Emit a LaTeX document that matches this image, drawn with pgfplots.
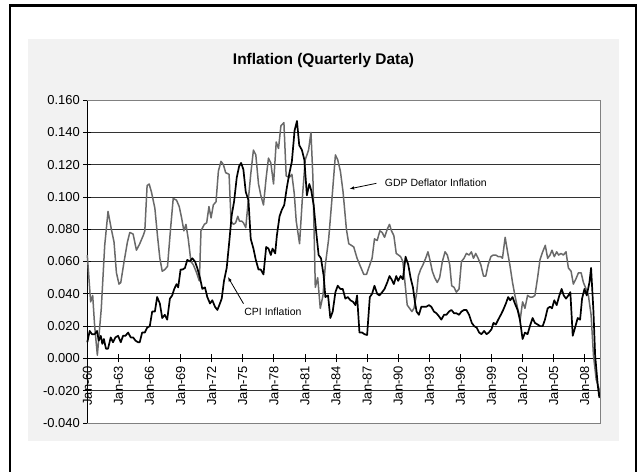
\documentclass[border=0pt]{standalone}
\usepackage{fontspec}
\setmainfont{Liberation Sans}
\usepackage{pgfplots}
\pgfplotsset{compat=1.18}
\usetikzlibrary{arrows.meta}
\definecolor{chartgray}{RGB}{242,242,242}
\definecolor{gdpgray}{RGB}{105,105,105}
\definecolor{framegray}{RGB}{128,128,128}

\begin{document}
\begin{tikzpicture}
% chart area and outer frame
\fill[chartgray] (28.3bp,-39bp) rectangle (619bp,-441bp);
\draw[line width=2.3bp] (9.9bp,-480bp) -- (9.9bp,-5.6bp) -- (636bp,-5.6bp) -- (636bp,-480bp);
\node[font=\bfseries\fontsize{15.5}{18}\selectfont] at (323.5bp,-60.7bp) {Inflation (Quarterly Data)};
\begin{axis}[
  at={(87.3bp,-423bp)}, anchor=south west,
  scale only axis, width=513bp, height=323bp,
  xmin=1960, xmax=2009.5, ymin=-0.04, ymax=0.16,
  axis background/.style={fill=white},
  axis x line*=middle, axis y line*=left,
  hide obscured x ticks=false, hide obscured y ticks=false,
  axis line style={black, line width=0.8bp},
  tick align=center, major tick length=8bp,
  tick style={black, line width=0.8bp},
  ymajorgrids, grid style={black!80, line width=0.75bp},
  ytick={-0.04,-0.02,0,0.02,0.04,0.06,0.08,0.1,0.12,0.14,0.16},
  scaled y ticks=false,
  yticklabel style={/pgf/number format/fixed, /pgf/number format/fixed zerofill, /pgf/number format/precision=3,
    /pgf/number format/assume math mode=true, font=\fontsize{13}{13}\selectfont},
  xtick={1960,1963,...,2008},
  xticklabels={Jan-60,Jan-63,Jan-66,Jan-69,Jan-72,Jan-75,Jan-78,Jan-81,Jan-84,Jan-87,Jan-90,Jan-93,Jan-96,Jan-99,Jan-02,Jan-05,Jan-08},
  xticklabel style={rotate=90, anchor=east, font=\fontsize{13}{13}\selectfont},
  clip=false,
]
% GDP deflator inflation
\addplot[gdpgray, line width=1.5bp, line join=round] coordinates {
(1960.00,0.064) (1960.32,0.035) (1960.52,0.039) (1960.71,0.020) (1960.97,0.002)
(1961.35,0.031) (1961.68,0.070) (1962.00,0.091) (1962.32,0.080) (1962.58,0.072)
(1962.81,0.053) (1963.06,0.046) (1963.23,0.047) (1963.55,0.060) (1963.87,0.072)
(1964.10,0.078) (1964.42,0.077) (1964.74,0.067) (1965.06,0.071) (1965.39,0.076)
(1965.55,0.079) (1965.77,0.107) (1965.97,0.108) (1966.19,0.103) (1966.52,0.093)
(1966.77,0.076) (1967.00,0.062) (1967.23,0.054) (1967.48,0.055) (1967.74,0.057)
(1968.03,0.080) (1968.29,0.099) (1968.61,0.098) (1968.87,0.094) (1969.10,0.087)
(1969.32,0.079) (1969.52,0.083) (1969.74,0.074) (1970.00,0.060) (1970.23,0.058)
(1970.55,0.053) (1970.81,0.048) (1970.97,0.079) (1971.29,0.083) (1971.52,0.084)
(1971.74,0.094) (1971.94,0.087) (1972.16,0.095) (1972.42,0.097) (1972.65,0.116)
(1972.90,0.122) (1973.13,0.120) (1973.35,0.115) (1973.68,0.114) (1973.87,0.085)
(1974.10,0.083) (1974.32,0.084) (1974.52,0.088) (1974.68,0.085) (1974.90,0.085)
(1975.06,0.084) (1975.29,0.081) (1975.55,0.099) (1975.77,0.114) (1976.03,0.129)
(1976.26,0.126) (1976.52,0.108) (1976.74,0.101) (1977.00,0.095) (1977.26,0.112)
(1977.48,0.124) (1977.71,0.121) (1977.97,0.108) (1978.23,0.134) (1978.45,0.130)
(1978.68,0.144) (1978.97,0.146) (1979.19,0.113) (1979.48,0.112) (1979.74,0.114)
(1979.97,0.102) (1980.16,0.085) (1980.48,0.071) (1980.77,0.101) (1981.03,0.123)
(1981.35,0.129) (1981.58,0.140) (1981.77,0.112) (1982.00,0.044) (1982.23,0.050)
(1982.48,0.031) (1982.74,0.039) (1982.97,0.058) (1983.29,0.074) (1983.61,0.099)
(1983.94,0.126) (1984.16,0.123) (1984.42,0.116) (1984.68,0.103) (1985.00,0.080)
(1985.23,0.071) (1985.48,0.070) (1985.71,0.069) (1986.03,0.062) (1986.35,0.057)
(1986.68,0.052) (1986.94,0.052) (1987.26,0.058) (1987.48,0.062) (1987.71,0.074)
(1987.97,0.073) (1988.23,0.079) (1988.45,0.078) (1988.68,0.075) (1988.94,0.080)
(1989.16,0.083) (1989.35,0.079) (1989.58,0.076) (1989.81,0.065) (1990.03,0.064)
(1990.23,0.063) (1990.45,0.060) (1990.65,0.047) (1990.87,0.033) (1991.10,0.031)
(1991.32,0.029) (1991.52,0.031) (1991.77,0.040) (1991.94,0.051) (1992.16,0.055)
(1992.39,0.058) (1992.65,0.062) (1992.87,0.066) (1993.06,0.061) (1993.29,0.054)
(1993.52,0.050) (1993.77,0.047) (1994.00,0.050) (1994.26,0.060) (1994.52,0.066)
(1994.74,0.064) (1994.97,0.058) (1995.16,0.045) (1995.39,0.044) (1995.61,0.041)
(1995.87,0.043) (1996.10,0.060) (1996.35,0.062) (1996.58,0.065) (1996.84,0.064)
(1997.06,0.066) (1997.26,0.062) (1997.48,0.065) (1997.71,0.062) (1997.97,0.058)
(1998.23,0.051) (1998.45,0.051) (1998.68,0.058) (1998.94,0.063) (1999.16,0.064)
(1999.42,0.064) (1999.65,0.063) (1999.90,0.063) (2000.06,0.062) (2000.32,0.075)
(2000.55,0.066) (2000.77,0.058) (2001.03,0.047) (2001.26,0.039) (2001.52,0.031)
(2001.77,0.024) (2002.00,0.035) (2002.23,0.031) (2002.48,0.039) (2002.71,0.038)
(2002.97,0.038) (2003.19,0.039) (2003.45,0.050) (2003.68,0.061) (2003.94,0.066)
(2004.19,0.070) (2004.42,0.062) (2004.65,0.064) (2004.84,0.067) (2005.06,0.063)
(2005.29,0.066) (2005.48,0.064) (2005.71,0.065) (2005.94,0.064) (2006.19,0.066)
(2006.42,0.056) (2006.68,0.054) (2006.90,0.046) (2007.13,0.049) (2007.39,0.053)
(2007.65,0.053) (2007.87,0.047) (2008.13,0.043) (2008.35,0.039) (2008.61,0.027)
(2008.84,0.002) (2009.10,-0.013) (2009.48,-0.021)
};
% CPI inflation
\addplot[black, line width=1.7bp, line join=round] coordinates {
(1960.00,0.010) (1960.23,0.017) (1960.45,0.015) (1960.71,0.015) (1960.94,0.017)
(1961.10,0.011) (1961.30,0.014) (1961.45,0.009) (1961.60,0.012) (1961.80,0.006)
(1962.00,0.006) (1962.26,0.013) (1962.48,0.010) (1962.71,0.013) (1962.97,0.014)
(1963.23,0.010) (1963.45,0.014) (1963.68,0.014) (1963.94,0.016) (1964.19,0.013)
(1964.42,0.013) (1964.65,0.011) (1964.90,0.010) (1965.06,0.010) (1965.29,0.016)
(1965.55,0.016) (1965.77,0.019) (1966.03,0.020) (1966.26,0.029) (1966.52,0.029)
(1966.74,0.038) (1967.00,0.034) (1967.23,0.025) (1967.48,0.027) (1967.71,0.024)
(1967.97,0.037) (1968.19,0.039) (1968.39,0.043) (1968.61,0.046) (1968.77,0.044)
(1969.00,0.055) (1969.19,0.055) (1969.42,0.056) (1969.65,0.061) (1969.90,0.060)
(1970.13,0.062) (1970.39,0.060) (1970.61,0.056) (1970.87,0.050) (1971.10,0.043)
(1971.35,0.044) (1971.58,0.038) (1971.84,0.034) (1972.06,0.036) (1972.32,0.032)
(1972.55,0.030) (1972.74,0.033) (1972.97,0.037) (1973.19,0.048) (1973.45,0.056)
(1973.68,0.071) (1973.94,0.089) (1974.16,0.097) (1974.42,0.112) (1974.65,0.119)
(1974.84,0.121) (1975.06,0.117) (1975.29,0.103) (1975.55,0.098) (1975.77,0.074)
(1976.03,0.068) (1976.26,0.061) (1976.52,0.055) (1976.74,0.055) (1977.00,0.052)
(1977.26,0.069) (1977.48,0.068) (1977.71,0.064) (1977.87,0.068) (1978.13,0.065)
(1978.29,0.076) (1978.55,0.088) (1978.77,0.092) (1979.00,0.095) (1979.26,0.106)
(1979.48,0.114) (1979.74,0.122) (1980.00,0.141) (1980.23,0.147) (1980.45,0.132)
(1980.71,0.129) (1980.94,0.123) (1981.19,0.101) (1981.42,0.108) (1981.61,0.104)
(1981.84,0.095) (1982.06,0.080) (1982.32,0.064) (1982.55,0.062) (1982.81,0.051)
(1982.97,0.038) (1983.23,0.039) (1983.45,0.025) (1983.68,0.029) (1983.94,0.041)
(1984.16,0.045) (1984.42,0.043) (1984.65,0.043) (1984.90,0.037) (1985.13,0.038)
(1985.39,0.036) (1985.65,0.035) (1985.87,0.033) (1986.03,0.039) (1986.26,0.016)
(1986.52,0.016) (1986.74,0.015) (1987.00,0.0145) (1987.26,0.038) (1987.48,0.040)
(1987.71,0.045) (1987.97,0.040) (1988.19,0.039) (1988.45,0.041) (1988.68,0.043)
(1988.94,0.047) (1989.16,0.051) (1989.35,0.049) (1989.58,0.046) (1989.81,0.051)
(1990.00,0.048) (1990.23,0.051) (1990.45,0.049) (1990.71,0.063) (1990.97,0.058)
(1991.19,0.050) (1991.42,0.044) (1991.61,0.035) (1991.77,0.029) (1992.00,0.027)
(1992.23,0.032) (1992.48,0.032) (1992.71,0.032) (1992.97,0.033) (1993.19,0.032)
(1993.45,0.029) (1993.68,0.028) (1993.94,0.026) (1994.16,0.024) (1994.42,0.027)
(1994.65,0.027) (1994.90,0.029) (1995.13,0.030) (1995.39,0.028) (1995.61,0.028)
(1995.87,0.027) (1996.10,0.029) (1996.35,0.030) (1996.58,0.030) (1996.84,0.027)
(1997.10,0.022) (1997.32,0.020) (1997.58,0.019) (1997.81,0.016) (1998.03,0.015)
(1998.29,0.017) (1998.52,0.015) (1998.74,0.016) (1999.00,0.018) (1999.19,0.022)
(1999.42,0.021) (1999.65,0.024) (1999.90,0.027) (2000.13,0.030) (2000.39,0.034)
(2000.61,0.038) (2000.81,0.036) (2001.03,0.038) (2001.26,0.034) (2001.52,0.030)
(2001.74,0.024) (2002.00,0.012) (2002.23,0.016) (2002.48,0.015) (2002.71,0.020)
(2002.97,0.025) (2003.19,0.022) (2003.45,0.021) (2003.68,0.020) (2003.94,0.020)
(2004.16,0.024) (2004.42,0.031) (2004.65,0.032) (2004.84,0.031) (2005.06,0.036)
(2005.29,0.033) (2005.55,0.039) (2005.77,0.043) (2005.97,0.039) (2006.19,0.037)
(2006.42,0.039) (2006.61,0.041) (2006.84,0.014) (2007.06,0.019) (2007.32,0.025)
(2007.55,0.024) (2007.74,0.037) (2007.97,0.043) (2008.19,0.039) (2008.45,0.047)
(2008.61,0.056) (2008.84,0.029) (2009.00,0.002) (2009.26,-0.017) (2009.40,-0.024)
(2009.48,-0.021)
};
% plot area border
\draw[framegray, line width=0.8bp] (rel axis cs:0,1) -- (rel axis cs:1,1) -- (rel axis cs:1,0) -- (rel axis cs:0,0);
% series annotations
\draw[-{Latex[length=4.5bp,width=3.5bp]}, line width=0.8bp] (axis cs:1987.89,0.1084) -- (axis cs:1985.31,0.1050);
\node[anchor=west, inner sep=0pt, font=\fontsize{10.5}{12}\selectfont] at (axis cs:1988.70,0.1086) {GDP Deflator Inflation};
\draw[-{Latex[length=4.5bp,width=3.5bp]}, line width=0.8bp] (axis cs:1975.07,0.0339) -- (axis cs:1973.57,0.0504);
\node[inner sep=0pt, font=\fontsize{10.5}{12}\selectfont] at (axis cs:1977.91,0.0291) {CPI Inflation};
\end{axis}
\pgfresetboundingbox
\path[use as bounding box] (0bp,0bp) rectangle (638bp,-472bp);
\end{tikzpicture}
\end{document}
